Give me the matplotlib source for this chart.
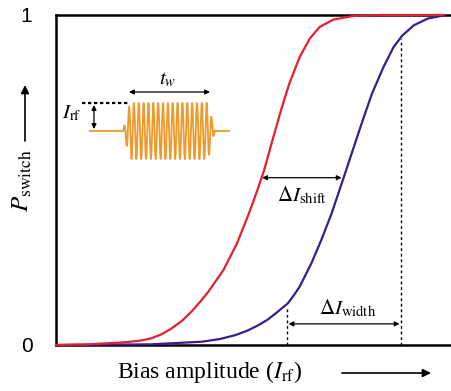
import numpy as np
import matplotlib
matplotlib.use("Agg")
import matplotlib.pyplot as plt

plt.rcParams["mathtext.fontset"] = "stix"
plt.rcParams["font.serif"] = ["Liberation Serif", "DejaVu Serif"]

# curvas de conmutacion (x normalizado, P entre 0 y 1)
x_rojo = [0.000, 0.080, 0.170, 0.210, 0.238, 0.265, 0.289, 0.315, 0.339, 0.360,
          0.381, 0.419, 0.453, 0.483, 0.504, 0.521, 0.542, 0.563, 0.584, 0.610,
          0.635, 0.660, 0.694, 0.744, 0.812, 0.970]
p_rojo = [0.000, 0.002, 0.008, 0.013, 0.020, 0.033, 0.050, 0.073, 0.101, 0.130,
          0.161, 0.227, 0.308, 0.399, 0.469, 0.530, 0.621, 0.711, 0.792, 0.873,
          0.928, 0.964, 0.986, 0.997, 1.000, 1.000]

x_azul = [0.000, 0.238, 0.365, 0.410, 0.449, 0.480, 0.508, 0.530, 0.550, 0.580,
          0.595, 0.610, 0.639, 0.664, 0.690, 0.715, 0.740, 0.765, 0.791, 0.820,
          0.845, 0.867, 0.896, 0.930, 0.972]
p_azul = [0.000, 0.002, 0.010, 0.018, 0.030, 0.044, 0.061, 0.077, 0.096, 0.126,
          0.150, 0.177, 0.247, 0.318, 0.399, 0.489, 0.580, 0.671, 0.762, 0.843,
          0.903, 0.938, 0.969, 0.989, 0.999]

# flechas y lineas de referencia
shift_x = [0.516, 0.715]
shift_p = 0.507
width_x = [0.582, 0.860]
width_p = 0.064
guia_izq = [0.578, 0.111]
guia_der = [0.864, 0.928]

W, H = 451, 391
fig = plt.figure(figsize=(W / 100, H / 100), dpi=100)
ax = fig.add_axes([56 / W, 46 / H, 1 - 56 / W + 0.01, 330 / H])

ax.plot(x_rojo, p_rojo, color="#e4202e", lw=1.6, zorder=5, clip_on=False,
        solid_joinstyle="round")
ax.plot(x_azul, p_azul, color="#3a1c8c", lw=1.6, zorder=4, clip_on=False,
        solid_joinstyle="round")

ax.set_xlim(0, 1)
ax.set_ylim(0, 1)
ax.set_xticks([])
ax.set_yticks([0, 1])
ax.set_yticklabels(["0", "1"], fontsize=15, family="Liberation Sans")
ax.tick_params(axis="y", length=0, pad=17)
ax.spines["right"].set_visible(False)
for s in ["left", "top", "bottom"]:
    ax.spines[s].set_linewidth(1.8)

# Delta I shift
ax.annotate("", xy=(shift_x[0], shift_p), xytext=(shift_x[1], shift_p),
            arrowprops=dict(arrowstyle="<|-|>", color="k", lw=0.9,
                            mutation_scale=7, shrinkA=0, shrinkB=0))
ax.text(np.mean(shift_x), shift_p - 0.02, r"$\Delta I_{\mathrm{shift}}$",
        fontsize=15, ha="center", va="top")

# Delta I width
ax.plot([guia_izq[0], guia_izq[0]], [0, guia_izq[1]], color="k", lw=1,
        ls=(0, (2, 2)), zorder=3)
ax.plot([guia_der[0], guia_der[0]], [0, guia_der[1]], color="k", lw=1,
        ls=(0, (2, 2)), zorder=3)
ax.annotate("", xy=(width_x[0], width_p), xytext=(width_x[1], width_p),
            arrowprops=dict(arrowstyle="<|-|>", color="k", lw=0.9,
                            mutation_scale=7, shrinkA=0, shrinkB=0))
ax.text(np.mean(width_x) + 0.01, width_p + 0.015, r"$\Delta I_{\mathrm{width}}$",
        fontsize=15, ha="center", va="bottom")

# etiquetas de ejes con flechas
fig.text(210 / W, 1 - 372 / H, r"Bias amplitude ($I_{\mathrm{rf}}$)", fontsize=17,
         family="serif", ha="center", va="center")
fig.text(22 / W, 1 - 181 / H, r"$P_{\mathrm{switch}}$", fontsize=18,
         rotation=90, ha="center", va="center")

capa = fig.add_axes([0, 0, 1, 1], zorder=10)
capa.set_xlim(0, W)
capa.set_ylim(H, 0)
capa.axis("off")
capa.patch.set_alpha(0)

capa.annotate("", xy=(431, 373), xytext=(342, 373),
              arrowprops=dict(arrowstyle="-|>", color="k", lw=1.2,
                              mutation_scale=12, shrinkA=0, shrinkB=0))
capa.annotate("", xy=(25, 85), xytext=(25, 141),
              arrowprops=dict(arrowstyle="-|>", color="k", lw=1.2,
                              mutation_scale=12, shrinkA=0, shrinkB=0))

# pulso de rf
t = np.linspace(123, 215, 2000)
env = np.clip(np.minimum(t - 123, 215 - t) / 7.0, 0, 1)
onda = 131 - 28 * env * np.sin(2 * np.pi * (t - 123) / 4.85)
capa.plot([90, 123], [131, 131], color="#ee9a2c", lw=1.3)
capa.plot(t, onda, color="#ee9a2c", lw=1.3)
capa.plot([215, 229], [131, 131], color="#ee9a2c", lw=1.3)

capa.plot([82, 130], [103, 103], color="k", lw=1.6, ls=(0, (1.5, 1.2)))
capa.annotate("", xy=(94, 105), xytext=(94, 129),
              arrowprops=dict(arrowstyle="<|-|>", color="k", lw=0.9,
                              mutation_scale=7, shrinkA=0, shrinkB=0))
capa.text(72, 113, r"$I_{\mathrm{rf}}$", fontsize=15, ha="center", va="center")

capa.annotate("", xy=(129, 92), xytext=(210, 92),
              arrowprops=dict(arrowstyle="<|-|>", color="k", lw=0.9,
                              mutation_scale=7, shrinkA=0, shrinkB=0))
capa.text(168, 79, r"$t_w$", fontsize=15, ha="center", va="center")

fig.savefig("out.png", dpi=100)
